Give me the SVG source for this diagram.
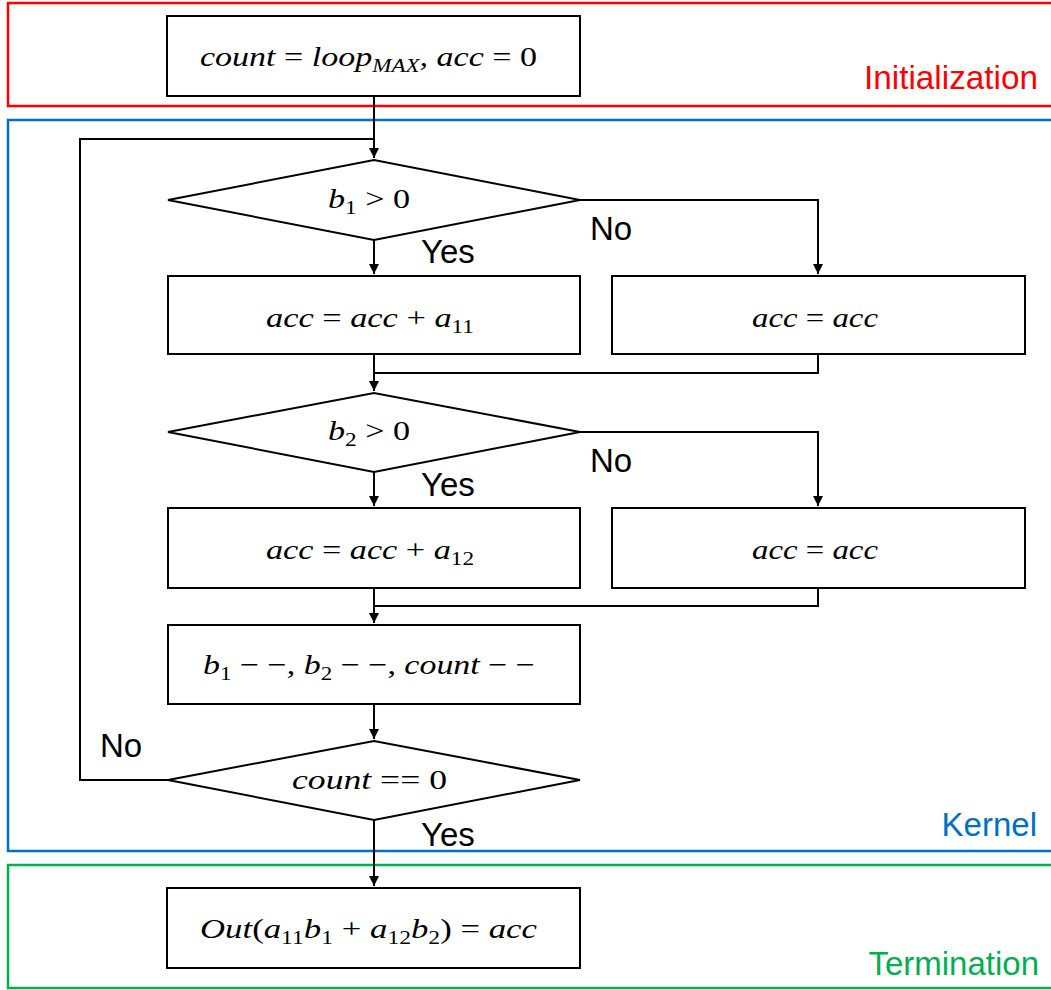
<svg xmlns="http://www.w3.org/2000/svg" width="1051" height="990" viewBox="0 0 1051 990">
  <style>
    .node { fill: #fff; stroke: #000; stroke-width: 2; }
    .math { font-family: "Liberation Serif", "DejaVu Serif", serif; font-style: italic; font-size: 28px; fill: #000; }
    .up { font-style: normal; }
    .sub { font-size: 19px; }
    .lbl { font-family: "Liberation Sans", Arial, sans-serif; font-size: 33px; fill: #000; }
    .region { fill: none; stroke-width: 2.5; }
    .edge { fill: none; stroke: #000; stroke-width: 2; }
  </style>
  <defs>
    <marker id="arrow" viewBox="0 0 10 10" refX="10" refY="5" markerWidth="5" markerHeight="5" orient="auto" markerUnits="strokeWidth">
      <path d="M0,0 L10,5 L0,10 z" fill="#000"/>
    </marker>
  </defs>

  <!-- stage regions -->
  <g id="regions">
    <rect class="region" x="8" y="3" width="1060" height="103" stroke="#FF0000"/>
    <rect class="region" x="8" y="120" width="1060" height="731" stroke="#0070C0"/>
    <rect class="region" x="8" y="865" width="1060" height="123" stroke="#00B050"/>
    <text class="lbl" x="864" y="89" textLength="174" lengthAdjust="spacingAndGlyphs" style="fill:#FF0000">Initialization</text>
    <text class="lbl" x="1037" y="836" text-anchor="end" style="fill:#0070C0">Kernel</text>
    <text class="lbl" x="1039" y="975" text-anchor="end" style="fill:#00B050">Termination</text>
  </g>

  <!-- connectors -->
  <g id="connectors">
    <path class="edge" d="M374,96 V158" marker-end="url(#arrow)"/>
    <path class="edge" d="M168,780 H80 V139 H374"/>
    <path class="edge" d="M374,240 V274" marker-end="url(#arrow)"/>
    <path class="edge" d="M580,200 H818 V274" marker-end="url(#arrow)"/>
    <path class="edge" d="M374,354 V391" marker-end="url(#arrow)"/>
    <path class="edge" d="M818,354 V373 H374"/>
    <path class="edge" d="M374,472 V506" marker-end="url(#arrow)"/>
    <path class="edge" d="M580,432 H818 V506" marker-end="url(#arrow)"/>
    <path class="edge" d="M374,588 V623" marker-end="url(#arrow)"/>
    <path class="edge" d="M818,588 V606 H374"/>
    <path class="edge" d="M374,704 V739" marker-end="url(#arrow)"/>
    <path class="edge" d="M374,820 V886" marker-end="url(#arrow)"/>
    <text class="lbl" x="590" y="240">No</text>
    <text class="lbl" x="421" y="263">Yes</text>
    <text class="lbl" x="590" y="472">No</text>
    <text class="lbl" x="421" y="496">Yes</text>
    <text class="lbl" x="100" y="757">No</text>
    <text class="lbl" x="421" y="846">Yes</text>
  </g>

  <g id="init">
    <rect class="node" x="167" y="16" width="413" height="80"/>
    <text class="math" x="200" y="66" textLength="337" lengthAdjust="spacingAndGlyphs">count <tspan class="up">=</tspan> loop<tspan class="sub" dy="6">MAX</tspan><tspan dy="-6">, acc </tspan><tspan class="up">= 0</tspan></text>
  </g>

  <g id="cond-b1">
    <polygon class="node" points="168,200 374,160 580,200 374,240"/>
    <text class="math" x="328" y="208" textLength="82" lengthAdjust="spacingAndGlyphs">b<tspan class="sub up" dy="6">1</tspan><tspan class="up" dy="-6"> &gt; 0</tspan></text>
  </g>

  <g id="add-a11">
    <rect class="node" x="168" y="276" width="412" height="78"/>
    <text class="math" x="266" y="327" textLength="208" lengthAdjust="spacingAndGlyphs">acc <tspan class="up">=</tspan> acc <tspan class="up">+</tspan> a<tspan class="sub up" dy="6">11</tspan></text>
  </g>

  <g id="keep-1">
    <rect class="node" x="612" y="276" width="413" height="78"/>
    <text class="math" x="752" y="327" textLength="126" lengthAdjust="spacingAndGlyphs">acc <tspan class="up">=</tspan> acc</text>
  </g>

  <g id="cond-b2">
    <polygon class="node" points="168,432 374,393 580,432 374,472"/>
    <text class="math" x="328" y="440" textLength="82" lengthAdjust="spacingAndGlyphs">b<tspan class="sub up" dy="6">2</tspan><tspan class="up" dy="-6"> &gt; 0</tspan></text>
  </g>

  <g id="add-a12">
    <rect class="node" x="168" y="508" width="412" height="80"/>
    <text class="math" x="266" y="559" textLength="208" lengthAdjust="spacingAndGlyphs">acc <tspan class="up">=</tspan> acc <tspan class="up">+</tspan> a<tspan class="sub up" dy="6">12</tspan></text>
  </g>

  <g id="keep-2">
    <rect class="node" x="612" y="508" width="413" height="80"/>
    <text class="math" x="752" y="559" textLength="126" lengthAdjust="spacingAndGlyphs">acc <tspan class="up">=</tspan> acc</text>
  </g>

  <g id="decrement">
    <rect class="node" x="168" y="625" width="412" height="79"/>
    <text class="math" x="203" y="674" textLength="332" lengthAdjust="spacingAndGlyphs">b<tspan class="sub up" dy="6">1</tspan><tspan class="up" dy="-6"> − −, </tspan>b<tspan class="sub up" dy="6">2</tspan><tspan class="up" dy="-6"> − −, </tspan>count <tspan class="up">− −</tspan></text>
  </g>

  <g id="cond-count">
    <polygon class="node" points="168,780 374,741 580,780 374,820"/>
    <text class="math" x="292" y="789" textLength="155" lengthAdjust="spacingAndGlyphs">count <tspan class="up">== 0</tspan></text>
  </g>

  <g id="output">
    <rect class="node" x="167" y="888" width="413" height="80"/>
    <text class="math" x="200" y="938" textLength="337" lengthAdjust="spacingAndGlyphs">Out<tspan class="up">(</tspan>a<tspan class="sub up" dy="6">11</tspan><tspan dy="-6">b</tspan><tspan class="sub up" dy="6">1</tspan><tspan class="up" dy="-6"> + </tspan>a<tspan class="sub up" dy="6">12</tspan><tspan dy="-6">b</tspan><tspan class="sub up" dy="6">2</tspan><tspan class="up" dy="-6">) = </tspan>acc</text>
  </g>
</svg>
